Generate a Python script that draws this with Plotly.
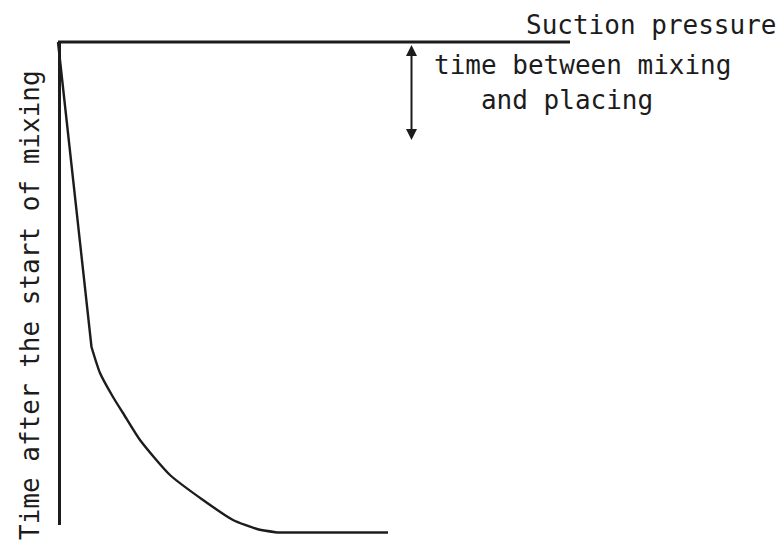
import plotly.graph_objects as go

# Schematic: suction pressure (horizontal) vs time after mixing (downward)
pressure = [0, 33.5, 42, 55, 65, 82, 112, 145, 175, 199, 219, 330]
time_after_mixing = [0, 305, 331, 355, 371, 398, 433, 458, 478, 487, 490.5, 490.5]

axis_time_end = 483          # length of the vertical time axis
pressure_axis_end = 512      # length of the horizontal pressure axis
placing_pressure = 353.5     # where the mixing-to-placing interval is marked
placing_time = 98            # time between mixing and placing

ink = "#1c1c1c"
font_family = "DejaVu Sans Mono"
font_size = 26

fig = go.Figure()

# vertical time axis
fig.add_trace(go.Scatter(x=[1.5, 1.5], y=[0, axis_time_end], mode="lines",
                         line=dict(color=ink, width=3), hoverinfo="skip"))
# horizontal suction-pressure axis
fig.add_trace(go.Scatter(x=[0, pressure_axis_end], y=[0, 0], mode="lines",
                         line=dict(color=ink, width=3), hoverinfo="skip"))
# steep initial rise of suction, then a smooth bend, then the plateau
fig.add_trace(go.Scatter(x=pressure[:2], y=time_after_mixing[:2], mode="lines",
                         line=dict(color=ink, width=2.4), hoverinfo="skip"))
fig.add_trace(go.Scatter(x=pressure[1:-1], y=time_after_mixing[1:-1], mode="lines",
                         line=dict(color=ink, width=2.4, shape="spline", smoothing=0.6),
                         hoverinfo="skip"))
fig.add_trace(go.Scatter(x=pressure[-2:], y=time_after_mixing[-2:], mode="lines",
                         line=dict(color=ink, width=2.4), hoverinfo="skip"))

annotations = [
    dict(x=placing_pressure, y=placing_time, ax=placing_pressure, ay=1.5,
         xref="x", yref="y", axref="x", ayref="y", text="",
         showarrow=True, arrowhead=2, startarrowhead=2, arrowside="end+start",
         arrowsize=1.1, startarrowsize=1.1, arrowwidth=2, arrowcolor=ink),
    dict(x=466, y=-17, xref="x", yref="y", text="Suction pressure",
         showarrow=False, xanchor="left", yanchor="middle",
         font=dict(family=font_family, size=font_size, color=ink)),
    dict(x=374, y=23, xref="x", yref="y", text="time between mixing",
         showarrow=False, xanchor="left", yanchor="middle",
         font=dict(family=font_family, size=font_size, color=ink)),
    dict(x=374, y=58, xref="x", yref="y", text="   and placing",
         showarrow=False, xanchor="left", yanchor="middle",
         font=dict(family=font_family, size=font_size, color=ink)),
    dict(x=-28, y=263, xref="x", yref="y", text="Time after the start of mixing",
         showarrow=False, textangle=-90, xanchor="center", yanchor="middle",
         font=dict(family=font_family, size=font_size, color=ink)),
]

fig.update_layout(
    width=784, height=554,
    margin=dict(l=0, r=0, t=0, b=0),
    paper_bgcolor="white", plot_bgcolor="white",
    showlegend=False,
    xaxis=dict(range=[-58, 726], visible=False, fixedrange=True),
    yaxis=dict(range=[512, -42], visible=False, fixedrange=True),
    annotations=annotations,
)

fig.write_html("out.html")
